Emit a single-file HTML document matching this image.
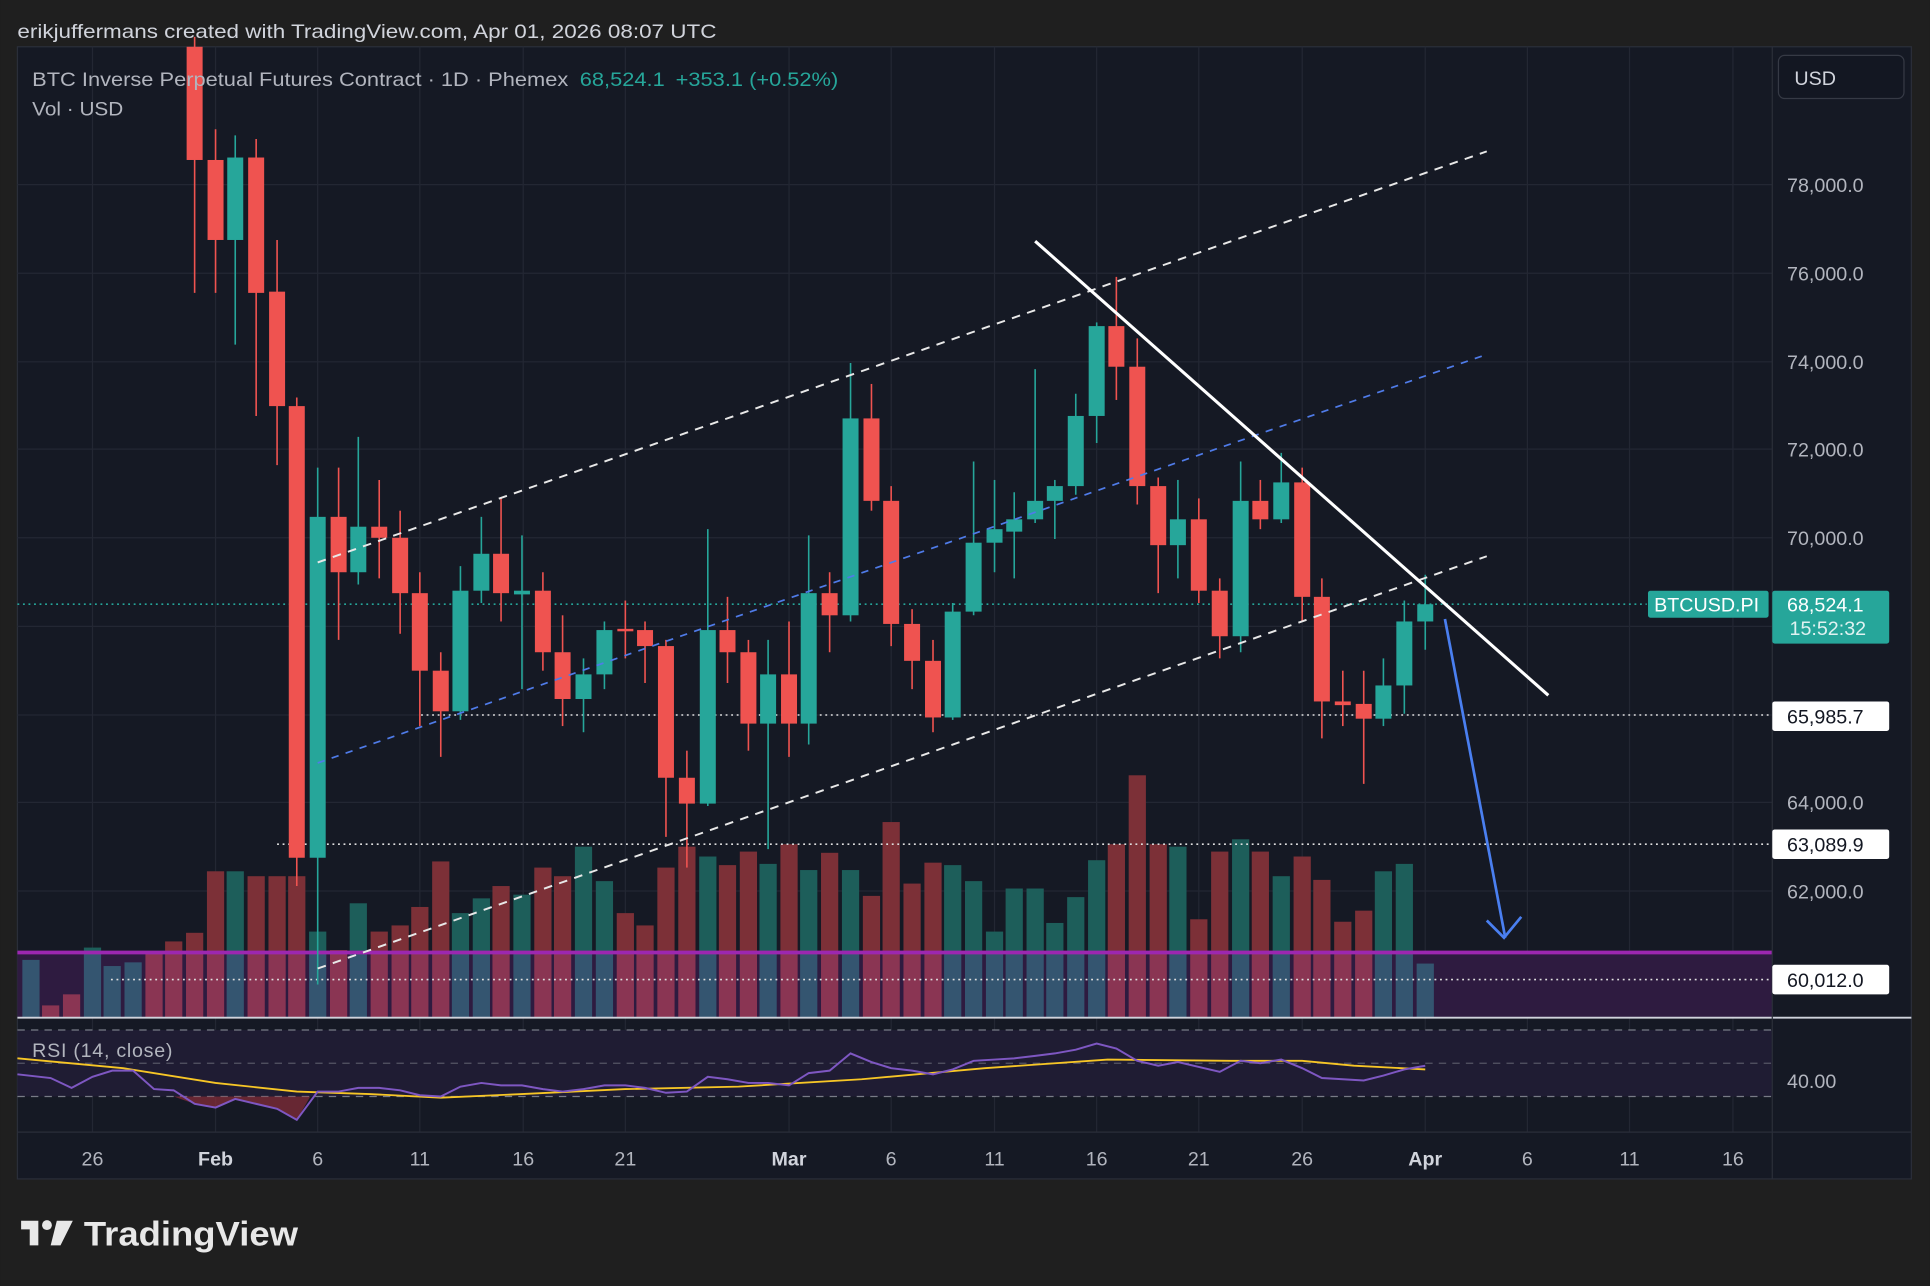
<!DOCTYPE html>
<html><head><meta charset="utf-8"><style>
html,body{margin:0;padding:0;background:#1f1f1f;width:1930px;height:1286px;overflow:hidden}
svg{display:block}
text{font-family:"Liberation Sans",sans-serif}
</style></head><body>
<svg id="s" width="1930" height="1286" viewBox="0 0 1568 1045" xmlns="http://www.w3.org/2000/svg">
<rect width="1568" height="1045" fill="#1f1f1f"/>
<rect x="14" y="38" width="1539" height="920" fill="#151924" stroke="#2a2e39" stroke-width="1"/>
<g id="grid" stroke="#232733" stroke-width="1"></g>
<rect x="14" y="774" width="1426" height="53" fill="#2e1b40"/>
<g id="vol"></g>
<line x1="14" y1="774" x2="1440" y2="774" stroke="#9c27b0" stroke-width="3"/>
<line x1="14" y1="491" x2="1338" y2="491" stroke="#26a69a" stroke-width="1.3" stroke-dasharray="1.5,3"/>
<line x1="342" y1="581" x2="1440" y2="581" stroke="#e0e0e0" stroke-width="1.3" stroke-dasharray="1.5,3"/>
<line x1="225" y1="686" x2="1440" y2="686" stroke="#e0e0e0" stroke-width="1.3" stroke-dasharray="1.5,3"/>
<line x1="90" y1="796" x2="1440" y2="796" stroke="#e0e0e0" stroke-width="1.3" stroke-dasharray="1.5,3"/>
<g id="candles"></g>
<line x1="258" y1="457" x2="1208" y2="123" stroke="#e8e8e8" stroke-width="1.6" stroke-dasharray="7,6"/>
<line x1="258" y1="787" x2="1208" y2="452" stroke="#e8e8e8" stroke-width="1.6" stroke-dasharray="7,6"/>
<line x1="258" y1="620" x2="1208" y2="288" stroke="#4f7be8" stroke-width="1.4" stroke-dasharray="6,6"/>
<line x1="841" y1="196" x2="1258" y2="565" stroke="#ffffff" stroke-width="2.5"/>
<line x1="1174" y1="503" x2="1223" y2="762" stroke="#4a7ff0" stroke-width="2.2"/>
<polyline points="1208,748 1222,762 1236,745" fill="none" stroke="#4a7ff0" stroke-width="2.2"/>
<line x1="14" y1="827" x2="1553" y2="827" stroke="#d0d3dc" stroke-width="1.5"/>
<rect x="14" y="837" width="1426" height="54" fill="#1f1c33"/>
<line x1="14" y1="837" x2="1440" y2="837" stroke="#787b86" stroke-dasharray="6,5"/>
<line x1="14" y1="864" x2="1440" y2="864" stroke="#787b86" stroke-dasharray="6,5" stroke-opacity="0.6"/>
<line x1="14" y1="891" x2="1440" y2="891" stroke="#787b86" stroke-dasharray="6,5"/>
<polygon points="141,891 158,897 175,900 191,893 208,897 225,901 241,910 252,891" fill="#8a2d3a" opacity="0.7"/>
<polyline fill="none" stroke="#f7c626" stroke-width="1.5" points="14,860 100,868 175,880 241,887 300,889 358,892 424,889 508,885 600,883 700,877 800,868 900,861 1000,862 1058,862 1100,866 1158,869"/>
<polyline fill="none" stroke="#7e57c2" stroke-width="1.6" points="14,873 41,876 58,884 75,875 91,870 108,870 125,885 141,886 158,897 175,900 191,893 208,897 225,901 241,910 258,887 275,887 291,884 308,884 325,886 341,890 358,891 374,883 391,880 407,882 424,882 441,885 457,887 474,885 491,882 508,882 524,884 541,888 558,887 575,875 591,877 608,880 624,880 641,882 657,872 674,870 691,856 708,863 724,868 741,870 758,873 774,869 791,862 808,861 824,860 841,858 857,856 874,853 891,848 907,852 924,862 941,866 957,863 974,867 991,871 1008,862 1024,864 1041,861 1058,868 1074,876 1091,877 1108,878 1124,874 1141,869 1158,866"/>
<text x="26" y="859" font-size="16" fill="#b2b5be" textLength="114">RSI (14, close)</text>
<line x1="14" y1="920" x2="1553" y2="920" stroke="#2a2e39"/>
<line x1="1440" y1="38" x2="1440" y2="958" stroke="#2a2e39"/>
<g font-size="16" fill="#b2b5be">
<text x="1452" y="156">78,000.0</text>
<text x="1452" y="228">76,000.0</text>
<text x="1452" y="300">74,000.0</text>
<text x="1452" y="371">72,000.0</text>
<text x="1452" y="443">70,000.0</text>
<text x="1452" y="658">64,000.0</text>
<text x="1452" y="730">62,000.0</text>
<text x="1452" y="884">40.00</text>
</g>
<rect x="1445" y="45" width="102" height="35" rx="5" fill="#131722" stroke="#363a45"/>
<text x="1458" y="69" font-size="16" fill="#d1d4dc">USD</text>
<rect x="1339" y="480" width="98" height="22" rx="2" fill="#26a69a"/>
<text x="1344" y="497" font-size="16" fill="#ffffff">BTCUSD.PI</text>
<rect x="1440" y="480" width="95" height="43" rx="2" fill="#26a69a"/>
<text x="1452" y="497" font-size="16" fill="#ffffff">68,524.1</text>
<text x="1454" y="516" font-size="16" fill="#e0f2f1">15:52:32</text>
<rect x="1440" y="570" width="95" height="24" rx="2" fill="#ffffff"/>
<text x="1452" y="588" font-size="16" fill="#131722">65,985.7</text>
<rect x="1440" y="674" width="95" height="24" rx="2" fill="#ffffff"/>
<text x="1452" y="692" font-size="16" fill="#131722">63,089.9</text>
<rect x="1440" y="784" width="95" height="24" rx="2" fill="#ffffff"/>
<text x="1452" y="802" font-size="16" fill="#131722">60,012.0</text>
<g font-size="16" fill="#b2b5be" text-anchor="middle">
<text x="75" y="947">26</text><text x="175" y="947" fill="#d1d4dc" font-weight="bold">Feb</text>
<text x="258" y="947">6</text><text x="341" y="947">11</text><text x="425" y="947">16</text><text x="508" y="947">21</text>
<text x="641" y="947" fill="#d1d4dc" font-weight="bold">Mar</text><text x="724" y="947">6</text><text x="808" y="947">11</text>
<text x="891" y="947">16</text><text x="974" y="947">21</text><text x="1058" y="947">26</text>
<text x="1158" y="947" fill="#d1d4dc" font-weight="bold">Apr</text><text x="1241" y="947">6</text><text x="1324" y="947">11</text><text x="1408" y="947">16</text>
</g>
<text x="14" y="31" font-size="16" fill="#d1d4dc" textLength="568" lengthAdjust="spacingAndGlyphs">erikjuffermans created with TradingView.com, Apr 01, 2026 08:07 UTC</text>
<text x="26" y="70" font-size="16" fill="#b2b5be" textLength="655" lengthAdjust="spacingAndGlyphs">BTC Inverse Perpetual Futures Contract · 1D · Phemex <tspan fill="#26a69a" dx="4">68,524.1</tspan><tspan fill="#26a69a" dx="8">+353.1 (+0.52%)</tspan></text>
<text x="26" y="94" font-size="16" fill="#b2b5be" textLength="74" lengthAdjust="spacingAndGlyphs">Vol · USD</text>
<g fill="#e8e8e8">
<path d="M17 992 h14 v20 h-7 v-13 h-7z"/>
<circle cx="38" cy="995.5" r="4"/>
<path d="M46 992 h13 l-10 20 h-8z"/>
</g>
<text x="68" y="1012" font-size="28" font-weight="bold" fill="#e8e8e8" textLength="174" lengthAdjust="spacingAndGlyphs">TradingView</text>
</svg>
<script>
var NS="http://www.w3.org/2000/svg";
function el(p,t,a){var e=document.createElementNS(NS,t);for(var k in a)e.setAttribute(k,a[k]);p.appendChild(e);return e;}
var g=document.getElementById('grid');
[150,222,294,365,437,509,581,652,724].forEach(function(y){el(g,'line',{x1:14,x2:1440,y1:y,y2:y});});
[75,175,258,341,425,508,641,724,808,891,974,1058,1158,1241,1324,1408].forEach(function(x){el(g,'line',{x1:x,x2:x,y1:38,y2:920});});
var C=[[158,38,130,30,238,'r'],[175,130,195,105,238,'r'],[191,128,195,110,280,'g'],[208,128,238,113,338,'r'],[225,237,330,195,378,'r'],[241,330,697,323,720,'r'],[258,420,697,380,800,'g'],[275,420,465,380,520,'r'],[291,428,465,355,475,'g'],[308,428,437,390,470,'r'],[325,437,482,415,515,'r'],[341,482,545,465,590,'r'],[358,545,578,530,615,'r'],[374,480,578,460,585,'g'],[391,450,480,420,490,'g'],[407,450,482,405,505,'r'],[424,480,483,435,560,'g'],[441,480,530,465,545,'r'],[457,530,568,500,590,'r'],[474,548,568,535,595,'g'],[491,512,548,505,560,'g'],[508,511,513,488,535,'r'],[524,512,525,505,555,'r'],[541,525,632,520,680,'r'],[558,632,653,610,705,'r'],[575,512,653,430,655,'g'],[591,512,530,485,555,'r'],[608,530,588,520,610,'r'],[624,548,588,520,690,'g'],[641,548,588,505,615,'r'],[657,482,588,435,605,'g'],[674,482,500,465,530,'r'],[691,340,500,295,505,'g'],[708,340,407,312,415,'r'],[724,407,507,395,525,'r'],[741,507,537,495,560,'r'],[758,537,583,520,595,'r'],[774,497,583,490,585,'g'],[791,441,497,375,500,'g'],[808,430,441,390,465,'g'],[824,422,432,400,470,'g'],[841,407,422,300,425,'g'],[857,395,407,390,438,'g'],[874,338,395,320,402,'g'],[891,265,338,262,360,'g'],[907,265,298,225,325,'r'],[924,298,395,275,410,'r'],[941,395,443,388,482,'r'],[957,422,443,390,470,'g'],[974,422,480,405,490,'r'],[991,480,517,470,535,'r'],[1008,407,517,375,530,'g'],[1024,407,422,390,430,'r'],[1041,392,422,368,425,'g'],[1058,392,485,380,505,'r'],[1074,485,570,470,600,'r'],[1091,570,573,545,590,'r'],[1108,572,584,545,637,'r'],[1124,557,584,535,590,'g'],[1141,505,557,488,580,'g'],[1158,491,505,467,528,'g']];
var cg=document.getElementById('candles');
C.forEach(function(c){var col=c[5]=='g'?'#26a69a':'#ef5350';
el(cg,'line',{x1:c[0],x2:c[0],y1:c[3],y2:c[4],stroke:col,'stroke-width':1.3});
el(cg,'rect',{x:c[0]-6.5,y:c[1],width:13,height:Math.max(1.5,c[2]-c[1]),fill:col});});
var V=[[25,780,'g'],[41,817,'r'],[58,808,'r'],[75,770,'g'],[91,785,'g'],[108,782,'g'],[125,775,'r'],[141,765,'r'],[158,758,'r'],[175,708,'r'],[191,708,'g'],[208,712,'r'],[225,712,'r'],[241,712,'r'],[258,757,'g'],[275,772,'r'],[291,734,'g'],[308,757,'r'],[325,752,'r'],[341,737,'r'],[358,700,'r'],[374,742,'g'],[391,730,'g'],[407,720,'r'],[424,727,'g'],[441,705,'r'],[457,712,'r'],[474,688,'g'],[491,716,'g'],[508,742,'r'],[524,752,'r'],[541,705,'r'],[558,688,'r'],[575,696,'g'],[591,703,'r'],[608,692,'r'],[624,702,'g'],[641,686,'r'],[657,707,'g'],[674,693,'r'],[691,707,'g'],[708,728,'r'],[724,668,'r'],[741,718,'r'],[758,701,'r'],[774,703,'g'],[791,716,'g'],[808,757,'g'],[824,722,'g'],[841,722,'g'],[857,750,'g'],[874,729,'g'],[891,699,'g'],[907,686,'r'],[924,630,'r'],[941,686,'r'],[957,688,'g'],[974,747,'r'],[991,692,'r'],[1008,682,'g'],[1024,692,'r'],[1041,712,'g'],[1058,696,'r'],[1074,715,'r'],[1091,749,'r'],[1108,740,'r'],[1124,708,'g'],[1141,702,'g'],[1158,783,'g']];
var vg=document.getElementById('vol');
V.forEach(function(v){var up=v[2]=='g';
var top=v[1];
if(top<774){el(vg,'rect',{x:v[0]-7,y:top,width:14,height:774-top,fill:up?'#1d5e5a':'#7c3037'});}
var t2=Math.max(top,774);
el(vg,'rect',{x:v[0]-7,y:t2,width:14,height:827-t2,fill:up?'#345570':'#8a3553'});});
</script>
</body></html>
